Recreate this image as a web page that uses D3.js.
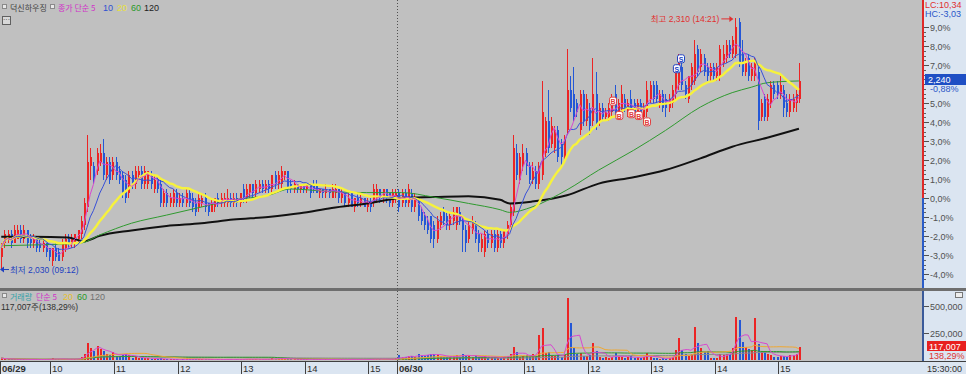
<!DOCTYPE html>
<html><head><meta charset="utf-8">
<script src="https://cdn.jsdelivr.net/npm/d3@7/dist/d3.min.js"></script>
<style>
html,body{margin:0;padding:0;background:#c0c0c0;overflow:hidden;}
svg{display:block;}
</style></head>
<body>
<svg id="chart" width="966" height="374"></svg>
<script>
// ---------- DATA ----------
// 3-minute candles [open, high, low, close]
const day1Candles = [
[2045,2060,2030,2055],[2060,2075,2055,2070],[2065,2075,2060,2070],[2070,2075,2055,2060],[2060,2080,2060,2075],
[2065,2080,2065,2075],[2075,2080,2060,2065],[2065,2080,2060,2075],[2075,2075,2055,2060],[2065,2070,2055,2060],
[2060,2070,2055,2065],[2065,2065,2050,2055],[2060,2065,2050,2055],[2055,2065,2050,2060],[2060,2060,2045,2050],
[2055,2055,2040,2045],[2040,2055,2035,2055],[2055,2060,2040,2045],[2050,2055,2040,2040],[2045,2065,2040,2060],
[2055,2070,2050,2065],[2065,2070,2055,2060],[2060,2070,2055,2065],[2060,2070,2055,2070],[2065,2075,2060,2075],
[2070,2090,2065,2085],[2080,2110,2075,2105],[2100,2180,2095,2150],[2145,2165,2130,2155],[2145,2150,2125,2130],
[2140,2165,2135,2160],[2150,2170,2145,2160],[2160,2175,2130,2135],[2135,2155,2130,2150],[2150,2155,2125,2130],
[2135,2155,2130,2150],[2150,2155,2130,2135],[2140,2145,2125,2130],[2135,2140,2110,2115],[2130,2135,2105,2110],
[2115,2140,2110,2135],[2135,2140,2120,2125],[2125,2145,2120,2140],[2135,2145,2130,2140],[2140,2145,2120,2125],
[2125,2145,2120,2140],[2125,2140,2120,2140],[2135,2140,2120,2125],[2120,2135,2115,2130],[2130,2135,2115,2120],
[2125,2130,2100,2105],[2105,2120,2100,2115],[2115,2120,2100,2105],[2105,2115,2100,2110],[2105,2120,2100,2115],
[2115,2120,2100,2105],[2105,2115,2100,2110],[2110,2115,2100,2105],[2105,2120,2100,2115],[2115,2120,2100,2105],
[2110,2115,2095,2100],[2105,2110,2090,2095],[2100,2115,2095,2110],[2105,2115,2100,2110],[2110,2115,2095,2100],
[2105,2105,2090,2095],[2095,2110,2095,2105],[2100,2110,2095,2110],[2110,2115,2100,2105],[2105,2115,2100,2110],
[2105,2115,2100,2110],[2105,2120,2100,2110],[2110,2115,2100,2105],[2105,2115,2100,2110],[2110,2115,2100,2105],
[2105,2115,2100,2115],[2120,2125,2105,2110],[2110,2125,2105,2120],[2115,2125,2110,2125],[2125,2125,2110,2115],
[2115,2130,2110,2125],[2120,2130,2115,2125],[2125,2130,2115,2120],[2120,2130,2115,2125],[2125,2130,2115,2120],
[2120,2135,2115,2135],[2135,2140,2120,2125],[2125,2140,2120,2135],[2125,2145,2120,2140],[2135,2140,2130,2140],
[2140,2140,2115,2120],[2125,2130,2115,2120],[2120,2130,2115,2125],[2125,2125,2115,2120],[2120,2125,2115,2125],
[2125,2125,2115,2120],[2120,2125,2115,2125],[2125,2125,2110,2115],[2125,2130,2115,2120],[2125,2130,2115,2115],
[2115,2120,2110,2120],[2120,2120,2110,2115],[2115,2125,2110,2120],[2120,2120,2110,2115],[2110,2125,2110,2120],
[2115,2125,2110,2120],[2120,2120,2105,2110],[2110,2120,2105,2115],[2115,2115,2100,2105],[2105,2115,2100,2110],
[2115,2115,2100,2100],[2100,2110,2095,2110],[2110,2115,2100,2105],[2105,2115,2100,2110],[2110,2110,2100,2100],
[2100,2110,2095,2105],[2105,2110,2095,2100],[2105,2125,2100,2120],[2110,2125,2105,2120],[2120,2120,2105,2110],
[2110,2120,2105,2120],[2120,2120,2105,2110],[2115,2115,2100,2105],[2105,2120,2100,2115],[2110,2120,2105,2115]
];
const day2Candles = [
[2115,2120,2095,2100],[2105,2120,2100,2115],[2115,2120,2100,2105],[2105,2125,2100,2120],[2115,2120,2095,2100],
[2100,2115,2095,2110],[2110,2110,2085,2090],[2095,2100,2080,2085],[2090,2095,2075,2080],[2085,2090,2070,2075],
[2090,2090,2060,2065],[2080,2085,2055,2065],[2065,2090,2060,2085],[2080,2095,2075,2090],[2095,2100,2080,2085],
[2090,2095,2075,2080],[2080,2095,2075,2090],[2085,2100,2080,2095],[2080,2100,2075,2100],[2095,2100,2080,2085],
[2090,2090,2050,2075],[2075,2080,2050,2060],[2065,2085,2060,2080],[2075,2090,2070,2085],[2080,2085,2060,2065],
[2070,2075,2050,2060],[2055,2070,2050,2065],[2050,2075,2045,2070],[2070,2075,2055,2060],[2060,2075,2055,2070],
[2070,2075,2050,2055],[2055,2075,2050,2070],[2070,2075,2055,2060],[2060,2075,2055,2075],[2070,2085,2065,2080],
[2080,2105,2075,2100],[2095,2180,2090,2165],[2160,2170,2130,2135],[2130,2160,2125,2155],[2145,2170,2140,2160],
[2160,2165,2135,2145],[2145,2150,2125,2130],[2130,2150,2125,2140],[2140,2145,2120,2125],[2125,2150,2120,2145],
[2135,2240,2130,2205],[2160,2200,2155,2195],[2195,2230,2160,2165],[2170,2200,2165,2190],[2165,2190,2160,2185],
[2185,2190,2150,2155],[2170,2175,2145,2155],[2155,2180,2150,2175],[2185,2275,2180,2230],[2230,2245,2205,2210],
[2225,2255,2195,2200],[2215,2220,2200,2205],[2185,2230,2180,2225],[2225,2230,2190,2195],[2195,2225,2190,2220],
[2210,2215,2180,2190],[2195,2265,2190,2225],[2225,2250,2185,2190],[2195,2215,2190,2210],[2210,2215,2195,2200],
[2200,2210,2195,2205],[2200,2215,2195,2210],[2205,2225,2200,2220],[2225,2235,2200,2205],[2205,2220,2200,2215],
[2205,2235,2200,2225],[2220,2225,2205,2210],[2205,2220,2200,2215],[2220,2230,2200,2205],[2215,2220,2200,2205],
[2205,2220,2200,2215],[2215,2220,2200,2205],[2200,2215,2195,2210],[2205,2240,2200,2230],[2220,2240,2215,2235],
[2235,2240,2215,2220],[2235,2240,2215,2220],[2215,2230,2210,2225],[2225,2230,2205,2210],[2220,2225,2200,2210],
[2210,2225,2205,2220],[2215,2235,2210,2230],[2225,2255,2220,2250],[2235,2270,2230,2265],[2255,2260,2230,2235],
[2235,2240,2220,2225],[2220,2245,2215,2245],[2235,2260,2230,2255],[2240,2285,2235,2270],[2275,2280,2245,2250],
[2255,2275,2250,2270],[2265,2270,2245,2250],[2255,2260,2240,2245],[2245,2260,2240,2255],[2255,2260,2240,2245],
[2245,2260,2240,2255],[2245,2280,2240,2275],[2260,2280,2255,2270],[2265,2285,2260,2280],[2280,2285,2265,2270],
[2270,2290,2265,2285],[2270,2310,2265,2300],[2305,2310,2255,2260],[2270,2285,2245,2250],[2250,2265,2245,2260],
[2265,2270,2240,2245],[2245,2260,2240,2255],[2245,2265,2240,2260],[2250,2255,2185,2195],[2200,2220,2195,2215],
[2220,2225,2195,2200],[2200,2225,2195,2220],[2215,2240,2210,2235],[2235,2240,2220,2225],[2235,2240,2220,2225],
[2225,2245,2220,2235],[2230,2235,2200,2210],[2215,2225,2200,2205],[2205,2225,2200,2220],[2210,2225,2205,2220],
[2215,2230,2205,2225],[2220,2260,2215,2240]
];
const day1Volume = [
18000,9000,7000,6000,8000,5000,6000,7000,5000,4000,6000,5000,4000,5000,6000,8000,15000,9000,7000,10000,8000,6000,7000,9000,12000,
25000,60000,160000,110000,85000,130000,100000,80000,55000,45000,70000,40000,35000,50000,60000,45000,
20000,25000,15000,18000,22000,15000,12000,10000,9000,14000,
8000,6000,7000,5000,6000,4000,5000,8000,6000,9000,
10000,7000,5000,6000,8000,5000,4000,5000,6000,4000,
8000,5000,4000,6000,5000,9000,10000,8000,6000,7000,
6000,5000,8000,7000,15000,12000,10000,18000,9000,14000,
8000,6000,5000,7000,5000,6000,4000,8000,6000,5000,
4000,5000,4000,7000,6000,5000,6000,4000,5000,8000,
6000,5000,4000,7000,5000,6000,12000,9000,7000,10000,
8000,6000,7000,15000
];
const day2Volume = [
45000,30000,25000,35000,40000,30000,55000,45000,40000,50000,
60000,55000,50000,35000,30000,25000,30000,35000,45000,30000,
55000,45000,40000,30000,35000,30000,25000,40000,20000,25000,
30000,20000,25000,30000,35000,55000,
120000,74000,28000,40000,45000,30000,56000,25000,231000,296000,
65000,74000,40000,35000,50000,30000,45000,574000,343000,111000,
55000,65000,40000,35000,45000,157000,83000,30000,20000,25000,
20000,30000,65000,25000,30000,20000,25000,35000,20000,25000,
20000,30000,65000,30000,20000,15000,12000,15000,12000,20000,
30000,93000,204000,93000,55000,40000,60000,306000,157000,111000,
74000,80000,20000,15000,20000,55000,45000,60000,60000,111000,
398000,370000,167000,120000,100000,90000,389000,150000,80000,70000,
60000,45000,30000,25000,40000,35000,30000,45000,50000,55000,
117007
];
// long moving averages (bar index, price)
const ma60Index = [0,12,25,31,41,52,63,73,84,91,104,115,126,136,147,157,160,167,178,188,199,209,220,230,236,241,251];
const ma60Price = [2057,2058,2060,2069,2082,2091,2100,2108,2113,2120,2117,2116,2116,2111,2104,2097,2094,2100,2119,2141,2163,2185,2211,2227,2233,2238,2240];
const ma120Index = [0,10,21,26,31,41,52,63,73,84,94,104,115,126,136,147,157,160,167,178,188,199,209,220,230,241,251];
const ma120Price = [2067,2067,2066,2062,2068,2074,2079,2082,2086,2089,2093,2099,2104,2110,2111,2112,2108,2104,2106,2113,2126,2133,2141,2154,2167,2177,2187];
// axis / labels
const pctTicks = [9,8,7,6,5,4,3,2,1,0,-1,-2,-3,-4];
const volTicks = [500000,250000];
const timeTickIndex = [0,16,36,56,76,96,116,125,145,165,185,205,225,245];
const timeTickLabel = ["06/29","10","11","12","13","14","15","06/30","10","11","12","13","14","15"];
const buyIndex = [192.5,194.5,198.3,200.6,203.2];
const buyPrice = [2217,2201,2203,2201,2194];
const sellIndex = [213.9,212.6];
const sellPrice = [2264,2253];
const pctBase = 2110;
const lastPrice = 2240, lastVolume = 117007;

// ---------- CHART ----------
const svg = d3.select("#chart");
const NUM = "'Liberation Sans',Arial,'Noto Sans CJK KR',sans-serif";
const KOR = "'Noto Sans CJK KR','Liberation Sans',sans-serif";
const RED = "#ec2424", BLUE = "#2457d6";
const AXBG = "#dbe5f1";
const plotR = 921;

const candles = day1Candles.concat(day2Candles);
const volumes = day1Volume.concat(day2Volume);
const n = candles.length;
const x = d3.scaleLinear().domain([0, n - 1]).range([1.24, 1.24 + (n - 1) * 3.178]);
const yPct = d3.scaleLinear().domain([-4, 9]).range([274, 27]);
const yP = p => yPct((p / pctBase - 1) * 100);
const yV = d3.scaleLinear().domain([0, 500000]).range([360, 306]);

// backgrounds
svg.append("rect").attr("x",0).attr("y",0).attr("width",966).attr("height",374).attr("fill","#c0c0c0");
svg.append("rect").attr("x",plotR+3).attr("y",0).attr("width",966-plotR-3).attr("height",374).attr("fill",AXBG);
svg.append("rect").attr("x",0).attr("y",361).attr("width",966).attr("height",13).attr("fill",AXBG);
svg.append("rect").attr("x",0).attr("y",288).attr("width",966).attr("height",3).attr("fill","#6e6e6e");
svg.append("line").attr("x1",0).attr("x2",966).attr("y1",361.5).attr("y2",361.5).attr("stroke","#404040");

const defs = svg.append("defs");
defs.append("clipPath").attr("id","cp").append("rect").attr("x",0).attr("y",0).attr("width",plotR).attr("height",288);
defs.append("clipPath").attr("id","cv").append("rect").attr("x",0).attr("y",291).attr("width",plotR).attr("height",70);

const tickX = i => x(i) - 1.59;
svg.append("line").attr("x1",Math.round(tickX(125))+0.5).attr("x2",Math.round(tickX(125))+0.5)
  .attr("y1",0).attr("y2",361).attr("stroke","#505050").attr("stroke-dasharray","1,2");

// ---------- price panel ----------
const gp = svg.append("g").attr("clip-path","url(#cp)");
const col = d => d[3] >= d[0] ? RED : BLUE;
const cg = gp.append("g").attr("shape-rendering","crispEdges");
cg.selectAll("line.w").data(candles).join("line")
  .attr("x1",(d,i)=>Math.round(x(i))+0.5).attr("x2",(d,i)=>Math.round(x(i))+0.5)
  .attr("y1",d=>yP(d[1])).attr("y2",d=>yP(d[2])).attr("stroke",col).attr("stroke-width",1);
cg.selectAll("rect.b").data(candles).join("rect")
  .attr("x",(d,i)=>Math.round(x(i))).attr("width",2)
  .attr("y",d=>yP(Math.max(d[0],d[3])))
  .attr("height",d=>Math.max(1, Math.abs(yP(d[0])-yP(d[3]))))
  .attr("fill",col);

function sma(arr, w){ return arr.map((_,i)=>d3.mean(arr.slice(Math.max(0,i-w+1), i+1))); }
const closes = candles.map(d=>d[3]);
const lineP = d3.line().x((d,i)=>x(i)).y(d=>yP(d));
const ma120 = ma120Index.map((k,j)=>[k, ma120Price[j]]);
const ma60 = ma60Index.map((k,j)=>[k, ma60Price[j]]);
const lineK = d3.line().x(d=>x(d[0])).y(d=>yP(d[1])).curve(d3.curveMonotoneX);
gp.append("path").attr("d",lineK(ma120)).attr("fill","none").attr("stroke","#111").attr("stroke-width",2);
gp.append("path").attr("d",lineK(ma60)).attr("fill","none").attr("stroke","#2f9a2f").attr("stroke-width",1);
gp.append("path").attr("d",lineP(sma(closes,20))).attr("fill","none").attr("stroke","#f6f23c").attr("stroke-width",2.4);
gp.append("path").attr("d",lineP(sma(closes,10))).attr("fill","none").attr("stroke","#3850d8").attr("stroke-width",1);
gp.append("path").attr("d",lineP(sma(closes,5))).attr("fill","none").attr("stroke","#d848d0").attr("stroke-width",1);

function badge(g, cx, cy, letter, color){
  const b = g.append("g").attr("transform",`translate(${cx},${cy})`);
  b.append("rect").attr("x",-3.5).attr("y",-4.5).attr("width",7).attr("height",8).attr("rx",2)
    .attr("fill","#fff").attr("stroke",color).attr("stroke-width",1);
  b.append("text").attr("x",0).attr("y",2.5).attr("text-anchor","middle").attr("font-family",NUM)
    .attr("font-size",7).attr("font-weight","bold").attr("fill",color).text(letter);
}
buyIndex.forEach((k,j)=>badge(gp, x(k), yP(buyPrice[j]), "B", "#e04040"));
sellIndex.forEach((k,j)=>badge(gp, x(k), yP(sellPrice[j]), "S", "#2040c0"));

const hiI = d3.maxIndex(candles, d=>d[1]);
gp.append("text").attr("x",x(hiI)-16).attr("y",yP(2310)+4).attr("text-anchor","end")
  .attr("font-family",NUM).attr("font-size",8.5).attr("fill","#e03030").text("최고 2,310 (14:21)");
gp.append("line").attr("x1",x(hiI)-14).attr("x2",x(hiI)-3).attr("y1",yP(2310)+1).attr("y2",yP(2310)+1).attr("stroke","#e03030");
gp.append("path").attr("d",`M${x(hiI)-2},${yP(2310)+1} l-4,-3 l0,6 z`).attr("fill","#e03030");
gp.append("line").attr("x1",1).attr("x2",9).attr("y1",yP(2030)-0.5).attr("y2",yP(2030)-0.5).attr("stroke","#2040c0");
gp.append("path").attr("d",`M0,${yP(2030)-0.5} l4,-3 l0,6 z`).attr("fill","#2040c0");
gp.append("text").attr("x",10).attr("y",yP(2030)+3).attr("font-family",NUM).attr("font-size",8.5)
  .attr("fill","#2040c0").text("최저 2,030 (09:12)");

// ---------- volume panel ----------
const gv = svg.append("g").attr("clip-path","url(#cv)");
gv.append("g").attr("shape-rendering","crispEdges").selectAll("rect").data(volumes).join("rect")
  .attr("x",(d,i)=>Math.round(x(i))).attr("width",2)
  .attr("y",d=>yV(d)).attr("height",d=>Math.max(0,360-yV(d)))
  .attr("fill",(d,i)=>col(candles[i]));
const lineV = d3.line().x((d,i)=>x(i)).y(d=>yV(d));
[[120,"#8a8a8a"],[60,"#2f9a2f"],[20,"#f0a830"],[5,"#d848d0"]].forEach(([w,c])=>{
  gv.append("path").attr("d",lineV(sma(volumes,w))).attr("fill","none").attr("stroke",c).attr("stroke-width",1);
});

// ---------- right axis ----------
const y0 = yPct(0);
svg.append("rect").attr("x",plotR+1).attr("y",0).attr("width",2).attr("height",y0).attr("fill","#e02828");
svg.append("rect").attr("x",plotR+1).attr("y",y0).attr("width",2).attr("height",288-y0).attr("fill","#2a5cc8");
svg.append("rect").attr("x",plotR+1).attr("y",291).attr("width",2).attr("height",70).attr("fill","#3a5a9a");
const ax = svg.append("g");
d3.range(-4.5, 9.6, 0.25).forEach(v=>{
  const yy = Math.round(yPct(v))+0.5;
  if (yy < 24 || yy > 284) return;
  ax.append("line").attr("x1",plotR+3).attr("x2",plotR+5).attr("y1",yy).attr("y2",yy).attr("stroke","#606060");
});
const yl = Math.round(yP(lastPrice));
pctTicks.forEach(v=>{
  const yy = Math.round(yPct(v))+0.5;
  ax.append("line").attr("x1",plotR+3).attr("x2",plotR+8).attr("y1",yy).attr("y2",yy).attr("stroke","#505050");
  if (Math.abs(yy - yl) < 12) return; // hidden behind the current-price box
  ax.append("text").attr("x",plotR+9).attr("y",yy+3.5).attr("font-family",NUM).attr("font-size",9)
    .attr("fill","#505050").text(d3.format(".1f")(v).replace("−","-").replace(".",",")+"%");
});
ax.append("rect").attr("x",plotR+4).attr("y",yl-7).attr("width",966-plotR-4).attr("height",11).attr("fill","#1f4fc4");
ax.append("text").attr("x",plotR+7).attr("y",yl+2).attr("font-family",NUM).attr("font-size",9).attr("fill","#fff").text("2,240");
ax.append("text").attr("x",plotR+9).attr("y",yl+11).attr("font-family",NUM).attr("font-size",9).attr("fill","#2a56c8").text("-0,88%");
ax.append("text").attr("x",plotR+4).attr("y",8).attr("font-family",NUM).attr("font-size",9).attr("fill","#e03030").text("LC:10,34");
ax.append("text").attr("x",plotR+4).attr("y",17).attr("font-family",NUM).attr("font-size",9).attr("fill","#2a56c8").text("HC:-3,03");
volTicks.forEach(v=>{
  const yy = Math.round(yV(v))+0.5;
  ax.append("line").attr("x1",plotR+3).attr("x2",plotR+8).attr("y1",yy).attr("y2",yy).attr("stroke","#505050");
  ax.append("text").attr("x",plotR+9).attr("y",yy+3.5).attr("font-family",NUM).attr("font-size",9)
    .attr("fill","#505050").text(d3.format(",")(v));
});
const yvl = Math.round(yV(lastVolume));
ax.append("rect").attr("x",plotR+6).attr("y",yvl-6).attr("width",966-plotR-6).attr("height",10).attr("fill","#e82020");
ax.append("text").attr("x",plotR+8).attr("y",yvl+2.5).attr("font-family",NUM).attr("font-size",9).attr("fill","#fff").text(d3.format(",")(lastVolume));
ax.append("text").attr("x",plotR+8).attr("y",yvl+12).attr("font-family",NUM).attr("font-size",9).attr("fill","#e03030").text("138,29%");
svg.append("rect").attr("x",955.5).attr("y",292.5).attr("width",7).attr("height",5).attr("fill","#eee").attr("stroke","#777");

// ---------- time axis ----------
const tx = svg.append("g");
timeTickIndex.forEach((k,j)=>{
  const xx = Math.max(0.5, Math.round(tickX(k))+0.5);
  tx.append("line").attr("x1",xx).attr("x2",xx).attr("y1",362).attr("y2",374).attr("stroke","#404040");
  const bold = timeTickLabel[j].includes("/");
  tx.append("text").attr("x",xx+1.5).attr("y",372).attr("font-family",NUM).attr("font-size",9.5)
    .attr("font-weight",bold?"bold":"normal").attr("fill","#303030").text(timeTickLabel[j]);
});
tx.append("text").attr("x",plotR+6).attr("y",372).attr("font-family",NUM).attr("font-size",9).attr("fill","#303030").text("15:30:00");

// ---------- legends ----------
function icon(xx,yy){ svg.append("rect").attr("x",xx+0.5).attr("y",yy+0.5).attr("width",4).attr("height",4).attr("fill","#e8e8e8").attr("stroke","#8a8a8a"); }
function legendRow(items, y){
  let end = 0;
  items.forEach(([t,xx,c,f])=>{
    if (t === "□") { const ix = Math.max(xx, end + 2); icon(ix, y-7); end = ix + 5; return; }
    const tt = svg.append("text").attr("x",Math.max(xx, end + 3)).attr("y",y).attr("font-family",f)
      .attr("font-size",f===KOR?8:9).attr("fill",c).text(t);
    end = +tt.attr("x") + tt.node().getComputedTextLength();
  });
}
legendRow([["□",1],["덕신하우징",8,"#404040",KOR],["□",50],["종가 단순 5",57,"#d030c8",KOR],["10",103,"#3050d0",NUM],["20",117,"#e8e040",NUM],["60",131,"#2a9a2a",NUM],["120",144,"#202020",NUM]], 11);
svg.append("rect").attr("x",2.5).attr("y",16.5).attr("width",8).attr("height",8).attr("fill","#d8d8d8").attr("stroke","#606060");
svg.append("text").attr("x",6.5).attr("y",22).attr("text-anchor","middle").attr("font-family",NUM).attr("font-size",7).attr("fill","#303030").text("···");
legendRow([["□",1],["거래량",8,"#30a0a8",KOR],["단순 5",36,"#d030c8",KOR],["20",63,"#e8c030",NUM],["60",77,"#2a9a2a",NUM],["120",90,"#707070",NUM]], 300);
svg.append("text").attr("x",1).attr("y",310).attr("font-family",NUM).attr("font-size",8.5).attr("fill","#303030").text("117,007주(138,29%)");
</script>
</body></html>
